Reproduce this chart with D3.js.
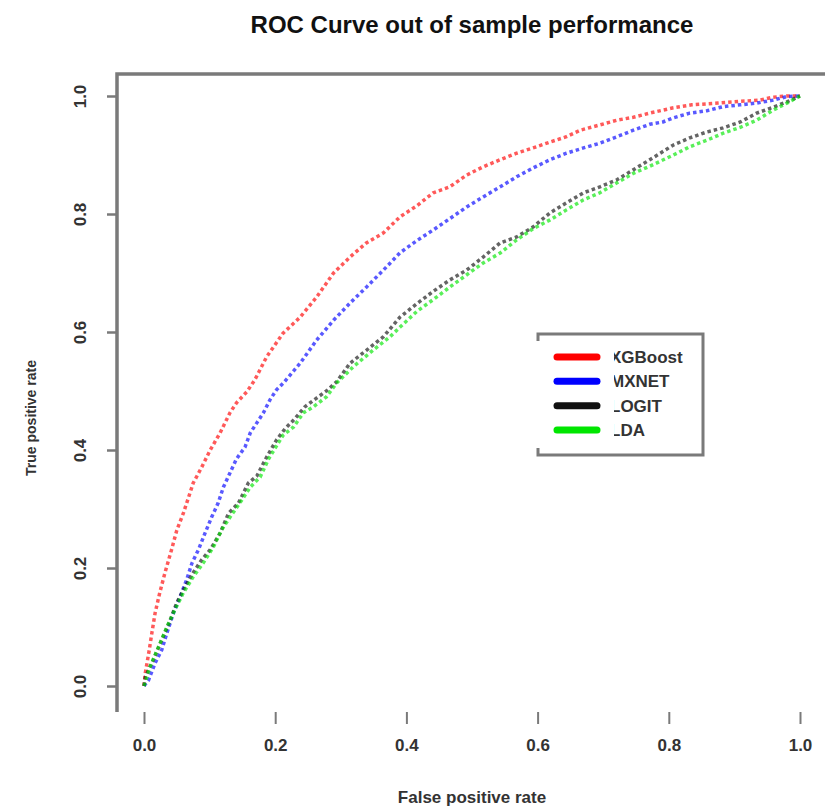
<!DOCTYPE html>
<html>
<head>
<meta charset="utf-8">
<script src="https://cdn.jsdelivr.net/npm/d3@7"></script>
<style>
    body { margin: 0; background: #fff; }
    text { font-family: "Liberation Sans", Arial, sans-serif; }
    .title { font-size: 24px; font-weight: bold; fill: #111; }
    .tickLabel { font-size: 17px; font-weight: bold; fill: #333; }
    .axisTitle { font-size: 17px; font-weight: bold; fill: #333; }
    .legendText { font-size: 17px; font-weight: bold; fill: #333; }
</style>
</head>
<body>
<div id="roc"></div>
<script>
// ROC points: [false positive rate, true positive rate]
const xgboostRoc = [[0,0],[0.002,0.022],[0.008,0.061],[0.012,0.090],[0.017,0.124],[0.024,0.158],[0.032,0.192],
    [0.042,0.231],[0.050,0.264],[0.060,0.293],[0.068,0.320],[0.075,0.344],[0.088,0.371],[0.101,0.400],[0.116,0.429],
    [0.131,0.463],[0.141,0.480],[0.157,0.499],[0.169,0.519],[0.187,0.558],[0.212,0.598],[0.238,0.625],[0.263,0.659],
    [0.289,0.700],[0.314,0.727],[0.339,0.751],[0.365,0.768],[0.390,0.795],[0.416,0.814],[0.441,0.836],[0.466,0.846],
    [0.492,0.866],[0.517,0.880],[0.543,0.892],[0.568,0.903],[0.593,0.912],[0.619,0.922],[0.644,0.931],[0.665,0.942],
    [0.695,0.951],[0.721,0.959],[0.746,0.964],[0.771,0.971],[0.807,0.980],[0.835,0.985],[0.875,0.988],[0.909,0.991],
    [0.939,0.993],[0.959,0.998],[0.980,1.0],[1,1]];

const mxnetRoc = [[0,0],[0.007,0.010],[0.017,0.039],[0.027,0.061],[0.035,0.090],[0.045,0.124],[0.055,0.151],
    [0.065,0.180],[0.073,0.208],[0.083,0.231],[0.093,0.259],[0.103,0.286],[0.113,0.310],[0.121,0.337],[0.131,0.361],
    [0.141,0.385],[0.154,0.405],[0.162,0.429],[0.172,0.446],[0.182,0.463],[0.192,0.485],[0.202,0.502],[0.212,0.513],
    [0.238,0.547],[0.263,0.586],[0.289,0.620],[0.314,0.649],[0.339,0.676],[0.365,0.705],[0.390,0.734],[0.416,0.755],
    [0.441,0.773],[0.466,0.792],[0.492,0.812],[0.517,0.829],[0.543,0.846],[0.568,0.863],[0.593,0.878],[0.619,0.892],
    [0.644,0.903],[0.670,0.912],[0.695,0.920],[0.721,0.931],[0.746,0.942],[0.771,0.952],[0.791,0.956],[0.807,0.963],
    [0.832,0.971],[0.858,0.975],[0.883,0.982],[0.909,0.985],[0.934,0.988],[0.959,0.993],[0.980,0.999],[1,1]];

const logitRoc = [[0,0],[0.002,0.015],[0.014,0.044],[0.027,0.078],[0.040,0.112],[0.050,0.141],[0.060,0.163],
    [0.075,0.192],[0.088,0.214],[0.101,0.231],[0.116,0.259],[0.129,0.293],[0.144,0.310],[0.159,0.344],[0.172,0.356],
    [0.187,0.388],[0.202,0.417],[0.215,0.436],[0.230,0.453],[0.245,0.473],[0.263,0.488],[0.278,0.500],[0.294,0.516],
    [0.314,0.547],[0.339,0.569],[0.365,0.592],[0.390,0.625],[0.416,0.648],[0.441,0.669],[0.466,0.688],[0.492,0.705],
    [0.517,0.727],[0.543,0.751],[0.568,0.761],[0.593,0.778],[0.619,0.802],[0.644,0.819],[0.670,0.836],[0.695,0.846],
    [0.721,0.858],[0.746,0.875],[0.771,0.892],[0.787,0.903],[0.807,0.917],[0.832,0.929],[0.858,0.939],[0.883,0.946],
    [0.909,0.956],[0.934,0.971],[0.959,0.981],[0.980,0.990],[1,1]];

const ldaRoc = [[0,0],[0.009,0.032],[0.022,0.066],[0.035,0.100],[0.047,0.129],[0.060,0.158],[0.075,0.185],
    [0.090,0.208],[0.106,0.236],[0.118,0.264],[0.131,0.286],[0.146,0.310],[0.162,0.337],[0.177,0.354],[0.190,0.385],
    [0.212,0.425],[0.228,0.439],[0.243,0.463],[0.258,0.473],[0.278,0.490],[0.294,0.514],[0.319,0.541],[0.349,0.569],
    [0.375,0.592],[0.390,0.608],[0.416,0.635],[0.441,0.655],[0.466,0.676],[0.492,0.697],[0.517,0.717],[0.543,0.734],
    [0.568,0.756],[0.593,0.775],[0.619,0.790],[0.644,0.807],[0.670,0.824],[0.695,0.836],[0.721,0.853],[0.746,0.869],
    [0.771,0.881],[0.807,0.900],[0.832,0.914],[0.858,0.925],[0.883,0.937],[0.909,0.947],[0.934,0.959],[0.959,0.976],
    [0.980,0.988],[1,1]];

const seriesNames = ['XGBoost', 'MXNET', 'LOGIT', 'LDA'];
const seriesData = [xgboostRoc, mxnetRoc, logitRoc, ldaRoc];
const seriesColors = ['#ff0000', '#0000ff', '#111111', '#00e600'];
const tickValues = [0, 0.2, 0.4, 0.6, 0.8, 1.0];

const width = 825;
const height = 809;

const svg = d3.select('#roc').append('svg')
    .attr('width', width)
    .attr('height', height);

let x = d3.scaleLinear().domain([0, 1]).range([144, 800]);
let y = d3.scaleLinear().domain([0, 1]).range([686, 96]);

// title
svg.append('text')
    .attr('class', 'title')
    .attr('x', 472)
    .attr('y', 33)
    .attr('text-anchor', 'middle')
    .text('ROC Curve out of sample performance');

// frame: top line and left axis line (the rest is cut off)
svg.append('path')
    .attr('d', 'M117,712 V74 H825')
    .attr('fill', 'none')
    .attr('stroke', '#7a7a7a')
    .attr('stroke-width', 3.5);

// y axis ticks, labels rotated like R's las=0
let yAxis = d3.axisLeft(y)
    .tickValues(tickValues)
    .tickSize(10)
    .tickFormat(d3.format('.1f'));

let gy = svg.append('g')
    .attr('transform', 'translate(117,0)')
    .call(yAxis);
gy.select('.domain').remove();
gy.selectAll('.tick line').attr('stroke', '#7a7a7a').attr('stroke-width', 2.5);
gy.selectAll('.tick text')
    .attr('class', 'tickLabel')
    .attr('x', null).attr('dy', null)
    .attr('text-anchor', 'middle')
    .attr('transform', 'translate(-37,0) rotate(-90)')
    .attr('dy', '0.35em');

// x axis: ticks only, no axis line
let xAxis = d3.axisBottom(x)
    .tickValues(tickValues)
    .tickSize(12)
    .tickPadding(15)
    .tickFormat(d3.format('.1f'));

let gx = svg.append('g')
    .attr('transform', 'translate(0,712)')
    .call(xAxis);
gx.select('.domain').remove();
gx.selectAll('.tick line').attr('stroke', '#7a7a7a').attr('stroke-width', 2);
gx.selectAll('.tick text').attr('class', 'tickLabel');

// axis titles
svg.append('text')
    .attr('class', 'axisTitle')
    .attr('x', 472)
    .attr('y', 803)
    .attr('text-anchor', 'middle')
    .text('False positive rate');

svg.append('text')
    .attr('class', 'axisTitle')
    .attr('transform', 'translate(36,418) rotate(-90)')
    .attr('text-anchor', 'middle')
    .style('font-size', '14px')
    .text('True positive rate');

// curves
const line = d3.line()
    .x(d => x(d[0]))
    .y(d => y(d[1]));

svg.selectAll('path.curve')
    .data(seriesData)
    .enter()
    .append('path')
    .attr('class', 'curve')
    .attr('d', line)
    .attr('fill', 'none')
    .attr('stroke', (d, i) => seriesColors[i])
    .attr('stroke-width', 3.5)
    .attr('stroke-dasharray', '3.5,3')
    .attr('stroke-opacity', 0.65);

// legend
const legend = svg.append('g').attr('class', 'legend');

legend.append('path')
    .attr('d', 'M538,341 V334 H703 V455 H538 V448')
    .attr('fill', 'none')
    .attr('stroke', '#7a7a7a')
    .attr('stroke-width', 3);

const legendY = d3.scalePoint().domain(seriesNames).range([357, 430]);

legend.selectAll('line.key')
    .data(seriesNames)
    .enter()
    .append('line')
    .attr('class', 'key')
    .attr('x1', 557).attr('x2', 597)
    .attr('y1', d => legendY(d)).attr('y2', d => legendY(d))
    .attr('stroke', (d, i) => seriesColors[i])
    .attr('stroke-width', 7)
    .attr('stroke-linecap', 'round');

// the first letter of each label is partly cut in the original
svg.append('clipPath')
    .attr('id', 'legendClip')
    .append('rect')
    .attr('x', 614).attr('y', 340).attr('width', 86).attr('height', 110);

legend.selectAll('text.legendText')
    .data(seriesNames)
    .enter()
    .append('text')
    .attr('class', 'legendText')
    .attr('x', 610)
    .attr('y', d => legendY(d))
    .attr('dy', '0.35em')
    .attr('clip-path', 'url(#legendClip)')
    .text(d => d);
</script>
</body>
</html>
